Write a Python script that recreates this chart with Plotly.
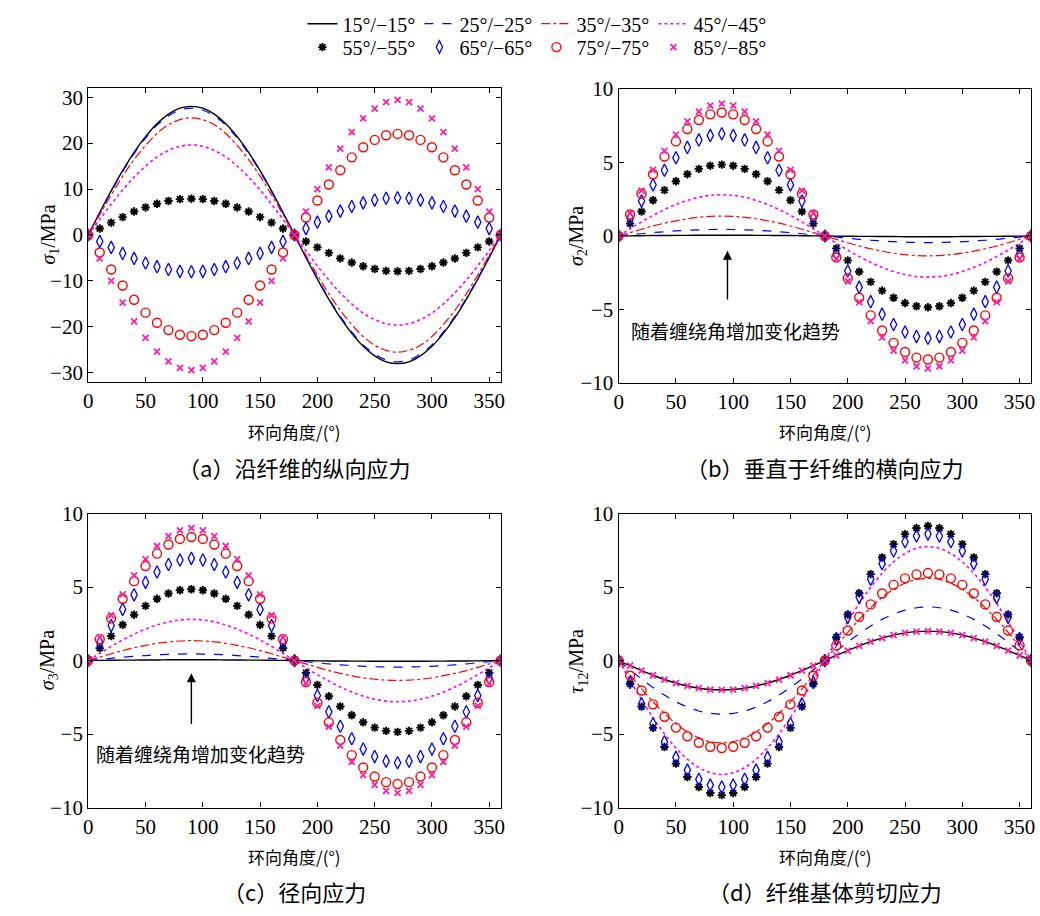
import plotly.graph_objects as go

# ---------------- data ----------------
angle = list(range(0, 361, 10))
xticks = [0, 50, 100, 150, 200, 250, 300, 350]
ticks_a = [-30, -20, -10, 0, 10, 20, 30]
ticks_b = [-10, -5, 0, 5, 10]

names = ["15°/−15°", "25°/−25°", "35°/−35°", "45°/−45°",
         "55°/−55°", "65°/−65°", "75°/−75°", "85°/−85°"]

# (a) sigma1
a15 = [0, 4.9, 9.6, 14.0, 18.0, 21.4, 24.2, 26.3, 27.6, 28.0, 27.6, 26.3, 24.2, 21.4, 18.0, 14.0, 9.6, 4.9, 0,
       -4.9, -9.6, -14.0, -18.0, -21.4, -24.2, -26.3, -27.6, -28.0, -27.6, -26.3, -24.2, -21.4, -18.0, -14.0, -9.6, -4.9, 0]
a25 = [0, 4.8, 9.4, 13.8, 17.7, 21.1, 23.9, 25.9, 27.2, 27.6, 27.2, 25.9, 23.9, 21.1, 17.7, 13.8, 9.4, 4.8, 0,
       -4.8, -9.4, -13.8, -17.7, -21.1, -23.9, -25.9, -27.2, -27.6, -27.2, -25.9, -23.9, -21.1, -17.7, -13.8, -9.4, -4.8, 0]
a35 = [0, 4.4, 8.7, 12.8, 16.4, 19.5, 22.1, 24.0, 25.1, 25.5, 25.1, 24.0, 22.1, 19.5, 16.4, 12.8, 8.7, 4.4, 0,
       -4.4, -8.7, -12.8, -16.4, -19.5, -22.1, -24.0, -25.1, -25.5, -25.1, -24.0, -22.1, -19.5, -16.4, -12.8, -8.7, -4.4, 0]
a45 = [0, 3.4, 6.7, 9.8, 12.6, 15.0, 17.0, 18.4, 19.3, 19.6, 19.3, 18.4, 17.0, 15.0, 12.6, 9.8, 6.7, 3.4, 0,
       -3.4, -6.7, -9.8, -12.6, -15.0, -17.0, -18.4, -19.3, -19.6, -19.3, -18.4, -17.0, -15.0, -12.6, -9.8, -6.7, -3.4, 0]
a55 = [0, 1.4, 2.7, 3.9, 5.1, 6.0, 6.8, 7.4, 7.8, 7.9, 7.8, 7.4, 6.8, 6.0, 5.1, 3.9, 2.7, 1.4, 0,
       -1.4, -2.7, -3.9, -5.1, -6.0, -6.8, -7.4, -7.8, -7.9, -7.8, -7.4, -6.8, -6.0, -5.1, -3.9, -2.7, -1.4, 0]
a65 = [0, -1.4, -2.7, -4.0, -5.1, -6.1, -6.9, -7.5, -7.9, -8.0, -7.9, -7.5, -6.9, -6.1, -5.1, -4.0, -2.7, -1.4, 0,
       1.4, 2.8, 4.1, 5.2, 6.2, 7.0, 7.6, 8.0, 8.1, 8.0, 7.6, 7.0, 6.2, 5.2, 4.1, 2.8, 1.4, 0]
a75 = [0, -3.8, -7.5, -11.0, -14.1, -16.9, -19.1, -20.7, -21.7, -22.0, -21.7, -20.7, -19.1, -16.9, -14.1, -11.0, -7.5, -3.8, 0,
       3.8, 7.5, 11.0, 14.1, 16.9, 19.1, 20.7, 21.7, 22.0, 21.7, 20.7, 19.1, 16.9, 14.1, 11.0, 7.5, 3.8, 0]
a85 = [0, -5.1, -10.0, -14.7, -18.8, -22.4, -25.4, -27.5, -28.9, -29.4, -28.9, -27.5, -25.4, -22.4, -18.8, -14.7, -10.0, -5.1, 0,
       5.1, 10.0, 14.7, 18.8, 22.4, 25.4, 27.5, 28.9, 29.4, 28.9, 27.5, 25.4, 22.4, 18.8, 14.7, 10.0, 5.1, 0]

# (b) sigma2
b15 = [0, 0.01, 0.02, 0.03, 0.03, 0.04, 0.04, 0.05, 0.05, 0.05, 0.05, 0.05, 0.04, 0.04, 0.03, 0.03, 0.02, 0.01, 0,
       -0.01, -0.02, -0.03, -0.03, -0.04, -0.04, -0.05, -0.05, -0.05, -0.05, -0.05, -0.04, -0.04, -0.03, -0.03, -0.02, -0.01, 0]
b25 = [0, 0.08, 0.15, 0.23, 0.29, 0.34, 0.39, 0.42, 0.44, 0.45, 0.44, 0.42, 0.39, 0.34, 0.29, 0.23, 0.15, 0.08, 0,
       -0.08, -0.15, -0.23, -0.29, -0.34, -0.39, -0.42, -0.44, -0.45, -0.44, -0.42, -0.39, -0.34, -0.29, -0.23, -0.15, -0.08, 0]
b35 = [0, 0.23, 0.46, 0.68, 0.87, 1.03, 1.17, 1.27, 1.33, 1.35, 1.33, 1.27, 1.17, 1.03, 0.87, 0.68, 0.46, 0.23, 0,
       -0.23, -0.46, -0.68, -0.87, -1.03, -1.17, -1.27, -1.33, -1.35, -1.33, -1.27, -1.17, -1.03, -0.87, -0.68, -0.46, -0.23, 0]
b45 = [0, 0.49, 0.96, 1.40, 1.80, 2.14, 2.42, 2.63, 2.76, 2.80, 2.76, 2.63, 2.42, 2.14, 1.80, 1.40, 0.96, 0.49, 0,
       -0.49, -0.96, -1.40, -1.80, -2.14, -2.42, -2.63, -2.76, -2.80, -2.76, -2.63, -2.42, -2.14, -1.80, -1.40, -0.96, -0.49, 0]
b55 = [0, 0.84, 1.66, 2.43, 3.12, 3.72, 4.20, 4.56, 4.78, 4.85, 4.78, 4.56, 4.20, 3.72, 3.12, 2.43, 1.66, 0.84, 0,
       -0.84, -1.66, -2.43, -3.12, -3.72, -4.20, -4.56, -4.78, -4.85, -4.78, -4.56, -4.20, -3.72, -3.12, -2.43, -1.66, -0.84, 0]
b65 = [0, 1.21, 2.38, 3.48, 4.47, 5.32, 6.02, 6.53, 6.84, 6.95, 6.84, 6.53, 6.02, 5.32, 4.47, 3.48, 2.38, 1.21, 0,
       -1.21, -2.38, -3.48, -4.47, -5.32, -6.02, -6.53, -6.84, -6.95, -6.84, -6.53, -6.02, -5.32, -4.47, -3.48, -2.38, -1.21, 0]
b75 = [0, 1.46, 2.87, 4.20, 5.40, 6.43, 7.27, 7.89, 8.27, 8.40, 8.27, 7.89, 7.27, 6.43, 5.40, 4.20, 2.87, 1.46, 0,
       -1.46, -2.87, -4.20, -5.40, -6.43, -7.27, -7.89, -8.27, -8.40, -8.27, -7.89, -7.27, -6.43, -5.40, -4.20, -2.87, -1.46, 0]
b85 = [0, 1.56, 3.08, 4.50, 5.79, 6.89, 7.79, 8.46, 8.86, 9.00, 8.86, 8.46, 7.79, 6.89, 5.79, 4.50, 3.08, 1.56, 0,
       -1.56, -3.08, -4.50, -5.79, -6.89, -7.79, -8.46, -8.86, -9.00, -8.86, -8.46, -7.79, -6.89, -5.79, -4.50, -3.08, -1.56, 0]

# (c) sigma3
c15 = [0, 0.01, 0.02, 0.03, 0.03, 0.04, 0.04, 0.05, 0.05, 0.05, 0.05, 0.05, 0.04, 0.04, 0.03, 0.03, 0.02, 0.01, 0,
       -0.01, -0.02, -0.03, -0.03, -0.04, -0.04, -0.05, -0.05, -0.05, -0.05, -0.05, -0.04, -0.04, -0.03, -0.03, -0.02, -0.01, 0]
c25 = [0, 0.08, 0.15, 0.23, 0.29, 0.34, 0.39, 0.42, 0.44, 0.45, 0.44, 0.42, 0.39, 0.34, 0.29, 0.23, 0.15, 0.08, 0,
       -0.08, -0.15, -0.23, -0.29, -0.34, -0.39, -0.42, -0.44, -0.45, -0.44, -0.42, -0.39, -0.34, -0.29, -0.23, -0.15, -0.08, 0]
c35 = [0, 0.23, 0.46, 0.68, 0.87, 1.03, 1.17, 1.27, 1.33, 1.35, 1.33, 1.27, 1.17, 1.03, 0.87, 0.68, 0.46, 0.23, 0,
       -0.23, -0.46, -0.68, -0.87, -1.03, -1.17, -1.27, -1.33, -1.35, -1.33, -1.27, -1.17, -1.03, -0.87, -0.68, -0.46, -0.23, 0]
c45 = [0, 0.49, 0.96, 1.40, 1.80, 2.14, 2.42, 2.63, 2.76, 2.80, 2.76, 2.63, 2.42, 2.14, 1.80, 1.40, 0.96, 0.49, 0,
       -0.49, -0.96, -1.40, -1.80, -2.14, -2.42, -2.63, -2.76, -2.80, -2.76, -2.63, -2.42, -2.14, -1.80, -1.40, -0.96, -0.49, 0]
c55 = [0, 0.84, 1.66, 2.43, 3.12, 3.72, 4.20, 4.56, 4.78, 4.85, 4.78, 4.56, 4.20, 3.72, 3.12, 2.43, 1.66, 0.84, 0,
       -0.84, -1.66, -2.43, -3.12, -3.72, -4.20, -4.56, -4.78, -4.85, -4.78, -4.56, -4.20, -3.72, -3.12, -2.43, -1.66, -0.84, 0]
c65 = [0, 1.21, 2.38, 3.48, 4.47, 5.32, 6.02, 6.53, 6.84, 6.95, 6.84, 6.53, 6.02, 5.32, 4.47, 3.48, 2.38, 1.21, 0,
       -1.21, -2.38, -3.48, -4.47, -5.32, -6.02, -6.53, -6.84, -6.95, -6.84, -6.53, -6.02, -5.32, -4.47, -3.48, -2.38, -1.21, 0]
c75 = [0, 1.46, 2.87, 4.20, 5.40, 6.43, 7.27, 7.89, 8.27, 8.40, 8.27, 7.89, 7.27, 6.43, 5.40, 4.20, 2.87, 1.46, 0,
       -1.46, -2.87, -4.20, -5.40, -6.43, -7.27, -7.89, -8.27, -8.40, -8.27, -7.89, -7.27, -6.43, -5.40, -4.20, -2.87, -1.46, 0]
c85 = [0, 1.56, 3.08, 4.50, 5.79, 6.89, 7.79, 8.46, 8.86, 9.00, 8.86, 8.46, 7.79, 6.89, 5.79, 4.50, 3.08, 1.56, 0,
       -1.56, -3.08, -4.50, -5.79, -6.89, -7.79, -8.46, -8.86, -9.00, -8.86, -8.46, -7.79, -6.89, -5.79, -4.50, -3.08, -1.56, 0]

# (d) tau12
d15 = [0, -0.35, -0.68, -1.00, -1.29, -1.53, -1.73, -1.88, -1.97, -2.00, -1.97, -1.88, -1.73, -1.53, -1.29, -1.00, -0.68, -0.35, 0,
       0.35, 0.68, 1.00, 1.29, 1.53, 1.73, 1.88, 1.97, 2.00, 1.97, 1.88, 1.73, 1.53, 1.29, 1.00, 0.68, 0.35, 0]
d25 = [0, -0.63, -1.25, -1.83, -2.35, -2.80, -3.16, -3.43, -3.59, -3.65, -3.59, -3.43, -3.16, -2.80, -2.35, -1.83, -1.25, -0.63, 0,
       0.63, 1.25, 1.83, 2.35, 2.80, 3.16, 3.43, 3.59, 3.65, 3.59, 3.43, 3.16, 2.80, 2.35, 1.83, 1.25, 0.63, 0]
d35 = [0, -0.97, -1.92, -2.80, -3.60, -4.29, -4.85, -5.26, -5.52, -5.60, -5.52, -5.26, -4.85, -4.29, -3.60, -2.80, -1.92, -0.97, 0,
       0.97, 1.92, 2.80, 3.60, 4.29, 4.85, 5.26, 5.52, 5.60, 5.52, 5.26, 4.85, 4.29, 3.60, 2.80, 1.92, 0.97, 0]
d45 = [0, -1.35, -2.65, -3.88, -4.98, -5.94, -6.71, -7.28, -7.63, -7.75, -7.63, -7.28, -6.71, -5.94, -4.98, -3.88, -2.65, -1.35, 0,
       1.35, 2.65, 3.88, 4.98, 5.94, 6.71, 7.28, 7.63, 7.75, 7.63, 7.28, 6.71, 5.94, 4.98, 3.88, 2.65, 1.35, 0]
d55 = [0, -1.59, -3.13, -4.58, -5.88, -7.01, -7.92, -8.60, -9.01, -9.15, -9.01, -8.60, -7.92, -7.01, -5.88, -4.58, -3.13, -1.59, 0,
       1.59, 3.13, 4.58, 5.88, 7.01, 7.92, 8.60, 9.01, 9.15, 9.01, 8.60, 7.92, 7.01, 5.88, 4.58, 3.13, 1.59, 0]
d65 = [0, -1.49, -2.94, -4.30, -5.53, -6.59, -7.45, -8.08, -8.47, -8.60, -8.47, -8.08, -7.45, -6.59, -5.53, -4.30, -2.94, -1.49, 0,
       1.49, 2.94, 4.30, 5.53, 6.59, 7.45, 8.08, 8.47, 8.60, 8.47, 8.08, 7.45, 6.59, 5.53, 4.30, 2.94, 1.49, 0]
d75 = [0, -1.03, -2.04, -2.98, -3.82, -4.56, -5.15, -5.59, -5.86, -5.95, -5.86, -5.59, -5.15, -4.56, -3.82, -2.98, -2.04, -1.03, 0,
       1.03, 2.04, 2.98, 3.82, 4.56, 5.15, 5.59, 5.86, 5.95, 5.86, 5.59, 5.15, 4.56, 3.82, 2.98, 2.04, 1.03, 0]
d85 = [0, -0.35, -0.68, -1.00, -1.29, -1.53, -1.73, -1.88, -1.97, -2.00, -1.97, -1.88, -1.73, -1.53, -1.29, -1.00, -0.68, -0.35, 0,
       0.35, 0.68, 1.00, 1.29, 1.53, 1.73, 1.88, 1.97, 2.00, 1.97, 1.88, 1.73, 1.53, 1.29, 1.00, 0.68, 0.35, 0]

panels = [
    [a15, a25, a35, a45, a55, a65, a75, a85],
    [b15, b25, b35, b45, b55, b65, b75, b85],
    [c15, c25, c35, c45, c55, c65, c75, c85],
    [d15, d25, d35, d45, d55, d65, d75, d85],
]

# ---------------- styles ----------------
W, H = 1040, 916
SERIF = "Liberation Serif, Times New Roman, serif"
CJK = "Noto Sans CJK SC"

line_styles = [
    dict(color="black", dash="solid", width=1.4),
    dict(color="#0000ff", dash="dash", width=1.2),
    dict(color="#ff0000", dash="dashdot", width=1.2),
    dict(color="#ff00ff", dash="dot", width=1.6),
]
marker_styles = [
    dict(symbol="asterisk-open", size=7, color="black", line=dict(color="black", width=1.9)),
    dict(symbol="diamond-tall-open", size=9, color="#0000ff", line=dict(color="#0000ff", width=1.3)),
    dict(symbol="circle-open", size=9, color="#ff0000", line=dict(color="#ff0000", width=1.4)),
    dict(symbol="x-thin-open", size=6, color="#ff1fa5", line=dict(color="#ff1fa5", width=1.8)),
]

fig = go.Figure()
axis_ids = ["", "2", "3", "4"]
for p, series in enumerate(panels):
    ax = axis_ids[p]
    for k, vals in enumerate(series):
        show = (p == 0)
        leg = "legend" if k < 4 else "legend2"
        if k < 4:
            fig.add_trace(go.Scatter(x=angle, y=vals, mode="lines", name=names[k],
                                     line=dict(shape="spline", **line_styles[k]),
                                     xaxis="x" + ax, yaxis="y" + ax,
                                     showlegend=show, legend=leg))
        else:
            fig.add_trace(go.Scatter(x=angle, y=vals, mode="markers", name=names[k],
                                     marker=marker_styles[k - 4],
                                     xaxis="x" + ax, yaxis="y" + ax,
                                     showlegend=show, legend=leg))

# ---------------- axes ----------------
def px_x(a, b):
    return [a / W, b / W]

def px_y(top, bottom):
    return [1 - bottom / H, 1 - top / H]

dom = {
    "": (px_x(84, 500), px_y(78, 380)),
    "2": (px_x(619, 1035), px_y(79, 381)),
    "3": (px_x(84, 500), px_y(515, 817)),
    "4": (px_x(619, 1035), px_y(515, 817)),
}
common = dict(showline=True, linecolor="black", linewidth=1.3, mirror="ticks",
              ticks="inside", ticklen=5, tickwidth=1.2, tickcolor="black",
              showgrid=False, zeroline=False,
              tickfont=dict(family=SERIF, size=21, color="black"))
layout_axes = {}
for ax in axis_ids:
    xd, yd = dom[ax]
    layout_axes["xaxis" + ax] = dict(domain=xd, range=[0, 360], tickvals=xticks,
                                     anchor="y" + ax, **common)
    if ax == "":
        yr, yt = [-32, 32], ticks_a
    else:
        yr, yt = [-10, 10], ticks_b
    layout_axes["yaxis" + ax] = dict(domain=yd, range=yr, tickvals=yt,
                                     anchor="x" + ax, **common)

# ---------------- annotations ----------------
ann = []
ylabels = ["<i>σ</i><sub>1</sub>/MPa", "<i>σ</i><sub>2</sub>/MPa",
           "<i>σ</i><sub>3</sub>/MPa", "<i>τ</i><sub>12</sub>/MPa"]
ylab_pos = [(44, 229), (578, 230), (44, 666), (578, 666)]
xlab_pos = [(292, 431), (827, 431), (292, 867), (827, 867)]
captions = ["（a）沿纤维的纵向应力", "（b）垂直于纤维的横向应力",
            "（c）径向应力", "（d）纤维基体剪切应力"]
cap_pos = [(292, 467), (827, 467), (292, 903), (827, 903)]
for i in range(4):
    ann.append(dict(text=ylabels[i], xref="paper", yref="paper",
                    x=ylab_pos[i][0] / W, y=1 - ylab_pos[i][1] / H,
                    xanchor="center", yanchor="middle", textangle=-90, showarrow=False,
                    font=dict(family=SERIF, size=20, color="black")))
    ann.append(dict(text="环向角度/(°)", xref="paper", yref="paper",
                    x=xlab_pos[i][0] / W, y=1 - xlab_pos[i][1] / H,
                    xanchor="center", yanchor="middle", showarrow=False,
                    font=dict(family=CJK, size=17, color="black")))
    ann.append(dict(text=captions[i], xref="paper", yref="paper",
                    x=cap_pos[i][0] / W, y=1 - cap_pos[i][1] / H,
                    xanchor="center", yanchor="middle", showarrow=False,
                    font=dict(family=CJK, size=22, color="black")))

# trend arrows and notes in (b) and (c)
trend = "随着缠绕角增加变化趋势"
for ax, xa, tip, tail, tx, ty in [("2", 95, -1.0, -5.0, 102, -6.4),
                                  ("3", 90, -0.86, -5.0, 98, -6.35)]:
    ann.append(dict(text=" ", x=xa, y=tip, ax=xa, ay=tail,
                    xref="x" + ax, yref="y" + ax, axref="x" + ax, ayref="y" + ax,
                    showarrow=True, arrowhead=2, arrowsize=1.3, arrowwidth=1.4,
                    arrowcolor="black"))
    ann.append(dict(text=trend, x=tx, y=ty, xref="x" + ax, yref="y" + ax,
                    xanchor="center", yanchor="middle", showarrow=False,
                    font=dict(family=CJK, size=19, color="black")))

legend_common = dict(orientation="h", xanchor="left", yanchor="top",
                     bgcolor="rgba(0,0,0,0)", borderwidth=0, entrywidth=72,
                     itemwidth=30, tracegroupgap=0,
                     font=dict(family=SERIF, size=20, color="black"))

fig.update_layout(
    width=W, height=H,
    margin=dict(l=0, r=0, t=0, b=0),
    paper_bgcolor="white", plot_bgcolor="white",
    annotations=ann,
    legend=dict(x=300 / W, y=1 + 8 / H, **legend_common),
    legend2=dict(x=300 / W, y=1 - 16 / H, **legend_common),
    **layout_axes,
)

fig.write_html("out.html", config={"displayModeBar": False},
               post_script="document.body.style.margin='0';")
